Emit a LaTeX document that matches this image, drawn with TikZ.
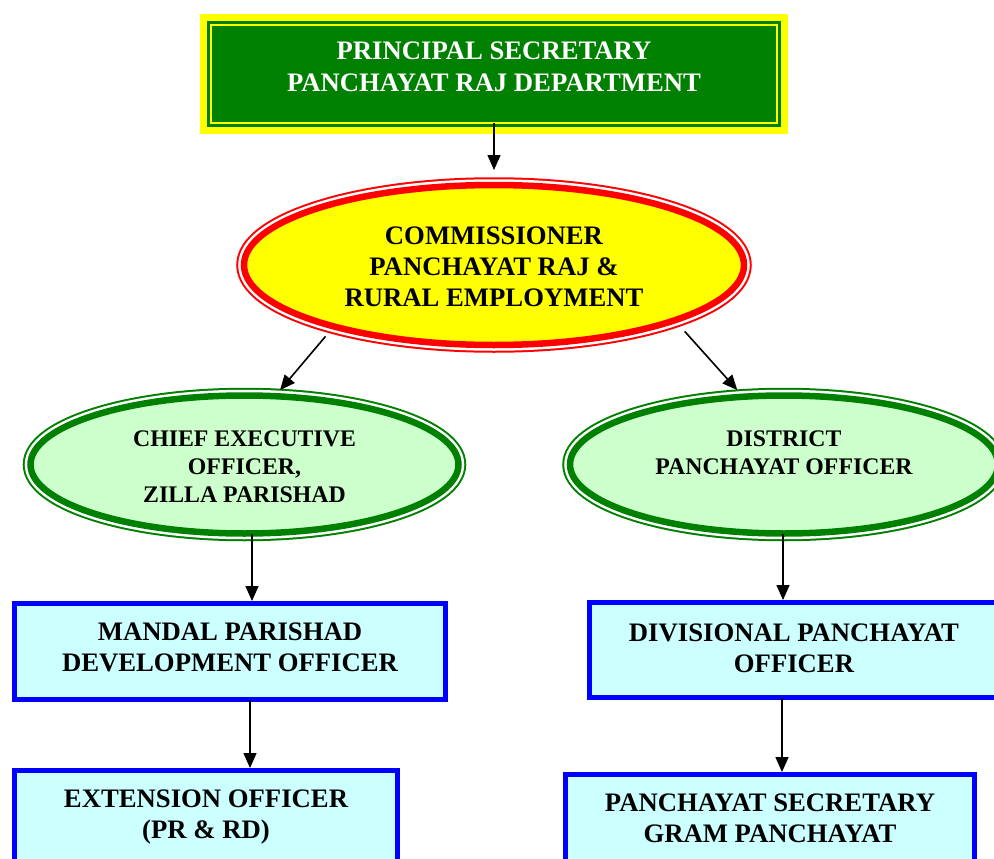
\documentclass[tikz,border=0pt]{standalone}
\usepackage{fontspec}
\setmainfont{Liberation Serif}
\usepackage{tikz}
\usetikzlibrary{arrows.meta,shapes.geometric}

\definecolor{prgreen}{HTML}{008000}
\definecolor{prlight}{HTML}{CCFFCC}
\definecolor{prcyan}{HTML}{CCFFFF}
\definecolor{pryellow}{HTML}{FFFF00}
\definecolor{prred}{HTML}{FF0000}
\definecolor{prblue}{HTML}{0000FF}

\begin{document}
\begin{tikzpicture}[x=1pt,y=-1pt,->,>={Triangle[length=15pt,width=13pt]},line width=1.6pt,
  big font/.style={font=\fontsize{26.7pt}{31pt}\selectfont\bfseries},
  head node/.style={rectangle,font=\fontsize{26.7pt}{32pt}\selectfont\bfseries,text=white,fill=prgreen,draw=prgreen,line width=8pt,
    preaction={draw=pryellow,line width=22pt},postaction={draw=pryellow,line width=2pt},
    align=center,outer sep=0pt,text depth=0pt},
  comm node/.style={ellipse,big font,fill=pryellow,draw=prred,line width=6.5pt,
    preaction={draw=prred,line width=15.5pt},preaction={draw=white,line width=11.5pt},
    align=center,outer sep=0pt,text depth=0pt,minimum width=500pt,minimum height=160pt},
  zp node/.style={ellipse,font=\fontsize{23.8pt}{28pt}\selectfont\bfseries,fill=prlight,draw=prgreen,line width=6.5pt,
    preaction={draw=prgreen,line width=15.5pt},preaction={draw=white,line width=11.5pt},
    align=center,outer sep=0pt,text depth=0pt,minimum width=428pt,minimum height=138pt},
  rec node/.style={rectangle,big font,fill=prcyan,draw=prblue,line width=5pt,
    align=center,outer sep=0pt,text depth=0pt}]

  \useasboundingbox (0,0) rectangle (994,859);
  \clip (0,0) rectangle (994,859);

  \node[head node] (1) at (494,74) [minimum width=566pt,minimum height=98pt,text height=36pt] {PRINCIPAL SECRETARY\\PANCHAYAT RAJ DEPARTMENT};
  \node[comm node] (2) at (494,265) [text height=82pt] {COMMISSIONER\\PANCHAYAT RAJ \&\\RURAL EMPLOYMENT};
  \node[zp node] (3) at (244.5,464.5) [text height=75pt] {CHIEF EXECUTIVE\\OFFICER,\\ZILLA PARISHAD};
  \node[zp node] (4) at (784,464.5) [text height=19pt] {DISTRICT\\PANCHAYAT OFFICER};
  \node[rec node] (5) at (230,651.5) [minimum width=431pt,minimum height=96pt,text height=39pt] {MANDAL PARISHAD\\DEVELOPMENT OFFICER};
  \node[rec node] (6) at (206,835.5) [minimum width=383pt,minimum height=130pt,text height=5pt] {EXTENSION OFFICER\\(PR \& RD)};
  \node[rec node] (7) at (794,650) [minimum width=409pt,minimum height=95pt,text height=44pt] {DIVISIONAL PANCHAYAT\\OFFICER};
  \node[rec node] (8) at (770,839.5) [minimum width=409pt,minimum height=130pt,text height=5pt] {PANCHAYAT SECRETARY\\GRAM PANCHAYAT};

  \path
    (1) edge[shorten >=15pt] (2)
    (2.201) edge[shorten <=13pt,shorten >=8pt] (3.66)
    (2.343) edge[shorten <=15pt,shorten >=9pt] (4.121)
    ([xshift=7.5pt]3.south) edge[shorten >=2.5pt] ([xshift=22pt]5.north)
    ([xshift=20pt]5.south) edge[shorten >=2.5pt] ([xshift=44pt]6.north)
    ([xshift=-1pt]4.south) edge[shorten >=2.5pt] ([xshift=-11pt]7.north)
    ([xshift=-12pt]7.south) edge[shorten >=2.5pt] ([xshift=12pt]8.north);
\end{tikzpicture}
\end{document}
